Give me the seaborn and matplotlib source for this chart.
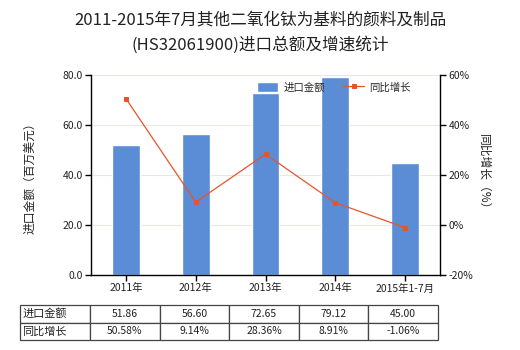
import matplotlib
matplotlib.use("Agg")
import matplotlib.pyplot as plt
import seaborn as sns
import pandas as pd
import numpy as np

sns.set_theme(style="white")
plt.rcParams['font.family'] = ['Noto Sans CJK SC', 'DejaVu Sans']
plt.rcParams['axes.unicode_minus'] = False

categories = ["2011年", "2012年", "2013年", "2014年", "2015年1-7月"]
import_value = [51.86, 56.60, 72.65, 79.12, 45.00]
growth_rate = [50.58, 9.14, 28.36, 8.91, -1.06]
value_labels = ["51.86", "56.60", "72.65", "79.12", "45.00"]
growth_labels = ["50.58%", "9.14%", "28.36%", "8.91%", "-1.06%"]

bar_color = "#5B8DD6"
line_color = "#E8542A"
text_color = "#222222"

df = pd.DataFrame({"category": categories, "value": import_value, "growth": growth_rate})

fig = plt.figure(figsize=(5.2, 3.5), dpi=100)
ax = fig.add_axes([91/520, 1-275/350, 349/520, 200/350])

sns.barplot(data=df, x="category", y="value", color=bar_color, width=0.4,
            saturation=1, ax=ax, label="进口金额")
ax.set_ylim(0, 80)
ax.set_xlim(-0.5, 4.5)
ax.set_yticks([0, 20, 40, 60, 80])
ax.set_yticklabels([f"{v:.1f}" for v in [0, 20, 40, 60, 80]], fontsize=7.5, color=text_color)
ax.set_xticks(range(5))
ax.set_xticklabels(categories, fontsize=7.5, color=text_color)
ax.set_xlabel("")
ax.set_ylabel("进口金额（百万美元）", fontsize=8.5, color=text_color, labelpad=19)
ax.grid(axis="y", color="#EAE8DC", linewidth=0.8)
ax.set_axisbelow(True)
for s in ["top", "right"]:
    ax.spines[s].set_visible(False)
for s in ["left", "bottom"]:
    ax.spines[s].set_color("black")
    ax.spines[s].set_linewidth(1)
ax.tick_params(axis="both", direction="out", length=4, width=1, color="black", pad=2,
               bottom=True, left=True)

ax2 = ax.twinx()
sns.lineplot(x=np.arange(5), y=df["growth"], ax=ax2, color=line_color, linewidth=0.9,
             marker="s", markersize=3.5, markeredgecolor=line_color, label="同比增长")
ax2.set_ylim(-20, 60)
ax2.set_yticks([-20, 0, 20, 40, 60])
ax2.set_yticklabels([f"{v}%" for v in [-20, 0, 20, 40, 60]], fontsize=7.5, color=text_color)
ax2.set_ylabel("同比增长（%）", fontsize=8.5, color=text_color, rotation=270, labelpad=12)
for s in ["top", "left", "bottom"]:
    ax2.spines[s].set_visible(False)
ax2.spines["right"].set_color("black")
ax2.spines["right"].set_linewidth(1)
ax2.tick_params(axis="y", direction="out", length=4, width=1, color="black", pad=2, right=True)
ax2.grid(False)

# combined legend
h1, l1 = ax.get_legend_handles_labels()
h2, l2 = ax2.get_legend_handles_labels()
if ax.get_legend():
    ax.get_legend().remove()
ax2.legend(h1 + h2, l1 + l2, loc="upper left", bbox_to_anchor=(0.455, 1.0), ncol=2,
           frameon=False, fontsize=7.5, handlelength=2.0, handleheight=1.0,
           columnspacing=1.8, handletextpad=0.5, borderaxespad=0.3)

fig.suptitle("2011-2015年7月其他二氧化钛为基料的颜料及制品\n(HS32061900)进口总额及增速统计",
             fontsize=12, y=0.968, color=text_color, linespacing=1.6)

# data table below the axes
cell_text = [["进口金额"] + value_labels, ["同比增长"] + growth_labels]
tbl = ax.table(cellText=cell_text, cellLoc="center",
               colWidths=[70/349] + [69.6/349] * 5,
               bbox=[(20-91)/349, -(340-275)/200, 418/349, 35/200])
tbl.auto_set_font_size(False)
tbl.set_fontsize(7.5)
for (r, c), cell in tbl.get_celld().items():
    cell.set_edgecolor("#444444")
    cell.set_linewidth(0.9)
    cell.get_text().set_color(text_color)
    if c == 0:
        cell.get_text().set_ha("left")
        cell.get_text().set_fontsize(8)
        cell.PAD = 0.03

fig.savefig("out.png", dpi=100)
